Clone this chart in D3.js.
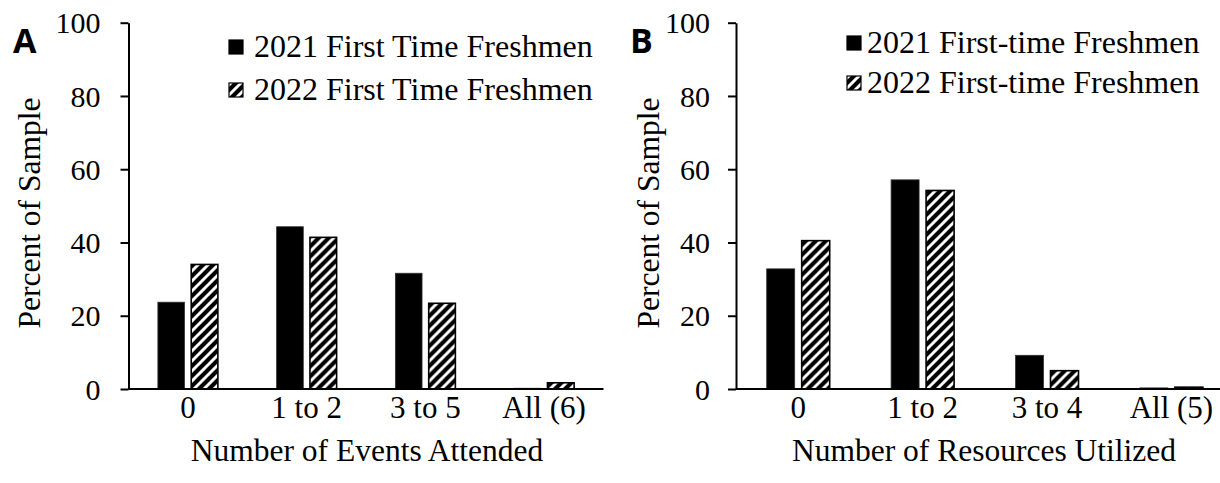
<!DOCTYPE html>
<html>
<head>
<meta charset="utf-8">
<script src="https://cdn.jsdelivr.net/npm/d3@7"></script>
<style>
    html, body { margin: 0; padding: 0; background: #fff; }
    #chart { width: 1220px; height: 483px; }
</style>
</head>
<body>
<div id="chart"></div>
<script>
// panel A data
const seriesA = ["2021 First Time Freshmen", "2022 First Time Freshmen"];
const categoriesA = ["0", "1 to 2", "3 to 5", "All (6)"];
const values2021A = [23.7, 44.3, 31.6, 0.2];
const values2022A = [34.0, 41.4, 23.4, 1.7];

// panel B data
const seriesB = ["2021 First-time Freshmen", "2022 First-time Freshmen"];
const categoriesB = ["0", "1 to 2", "3 to 4", "All (5)"];
const values2021B = [32.8, 57.1, 9.2, 0.3];
const values2022B = [40.5, 54.2, 5.0, 0.5];

const yTicks = [0, 20, 40, 60, 80, 100];

const SERIF = "'Liberation Serif', 'Times New Roman', 'DejaVu Serif', serif";

document.addEventListener("DOMContentLoaded", function () {
    const svg = d3.select("#chart").append("svg")
        .attr("width", 1220)
        .attr("height", 483);

    // hatch pattern for the 2022 series
    const pattern = svg.append("defs").append("pattern")
        .attr("id", "hatch")
        .attr("patternUnits", "userSpaceOnUse")
        .attr("width", 10)
        .attr("height", 10);
    pattern.append("rect").attr("width", 10).attr("height", 10).attr("fill", "#fff");
    pattern.append("path")
        .attr("d", "M-2,2 L2,-2 M0,10 L10,0 M8,12 L12,8")
        .attr("stroke", "#000")
        .attr("stroke-width", 4.1);

    function drawPanel(opt) {
        const g = svg.append("g").style("font-family", SERIF);

        const y = d3.scaleLinear().domain([0, 100]).range([389, 22.7]);
        const x = d3.scaleBand().domain(opt.categories).range([opt.axisX, opt.endX]);
        const x1 = d3.scaleBand().domain(opt.series).range([0, opt.pairWidth]).paddingInner(0.2);

        const data = opt.categories.map((c, i) => ({
            category: c,
            values: [
                { key: opt.series[0], value: opt.v2021[i] },
                { key: opt.series[1], value: opt.v2022[i] }
            ]
        }));

        const groups = g.selectAll(".group")
            .data(data)
            .join("g")
            .attr("transform", d => `translate(${x(d.category) + (x.bandwidth() - opt.pairWidth) / 2},0)`);

        groups.selectAll("rect")
            .data(d => d.values)
            .join("rect")
            .attr("x", d => x1(d.key))
            .attr("y", d => y(d.value))
            .attr("width", x1.bandwidth())
            .attr("height", d => y(0) - y(d.value))
            .attr("fill", d => d.key === opt.series[0] ? "#000" : "url(#hatch)")
            .attr("stroke", d => d.key === opt.series[0] ? "#333" : "#000")
            .attr("stroke-width", d => d.key === opt.series[0] ? 0.8 : 1.6);

        // y axis
        const yAxis = g.append("g")
            .attr("transform", `translate(${opt.axisX},0)`)
            .call(d3.axisLeft(y).tickValues(yTicks).tickSize(8).tickSizeOuter(0).tickPadding(opt.tickPad));
        yAxis.select(".domain").attr("stroke", "#000").attr("stroke-width", 2);
        yAxis.selectAll(".tick line").attr("stroke", "#000").attr("stroke-width", 2);
        yAxis.selectAll(".tick text")
            .style("font-family", SERIF)
            .attr("font-size", 30)
            .attr("fill", "#000")
            .attr("dy", "0.34em");

        // baseline
        g.append("line")
            .attr("x1", opt.axisX)
            .attr("x2", opt.endX)
            .attr("y1", y(0))
            .attr("y2", y(0))
            .attr("stroke", "#000")
            .attr("stroke-width", 2);

        // category labels
        g.selectAll(".cat")
            .data(opt.categories)
            .join("text")
            .attr("x", d => x(d) + x.bandwidth() / 2)
            .attr("y", 418)
            .attr("text-anchor", "middle")
            .attr("font-size", 31)
            .text(d => d);

        // axis titles
        g.append("text")
            .attr("x", opt.titleX)
            .attr("y", 461)
            .attr("text-anchor", "middle")
            .attr("font-size", 31.5)
            .text(opt.xTitle);

        g.append("text")
            .attr("transform", `translate(${opt.yTitleX},213) rotate(-90)`)
            .attr("text-anchor", "middle")
            .attr("font-size", 31.5)
            .text("Percent of Sample");

        // panel letter
        g.append("text")
            .attr("x", opt.letterX)
            .attr("y", 53)
            .style("font-family", "'Open Sans', 'Liberation Sans', sans-serif")
            .attr("font-weight", 700)
            .attr("font-size", 34)
            .text(opt.letter);

        // legend
        const legend = g.selectAll(".legend")
            .data(opt.series)
            .join("g")
            .attr("transform", (d, i) => `translate(${opt.legendX},${opt.legendY[i]})`);
        legend.append("rect")
            .attr("x", 0)
            .attr("y", -7)
            .attr("width", 14)
            .attr("height", 14)
            .attr("fill", (d, i) => i === 0 ? "#000" : "url(#hatch)")
            .attr("stroke", "#000")
            .attr("stroke-width", 1.2);
        legend.append("text")
            .attr("x", opt.legendGap)
            .attr("y", 10)
            .attr("font-size", 32)
            .text(d => d);
    }

    drawPanel({
        letter: "A", letterX: 13,
        series: seriesA, categories: categoriesA,
        v2021: values2021A, v2022: values2022A,
        axisX: 128.5, endX: 603.5, pairWidth: 60, tickPad: 20,
        xTitle: "Number of Events Attended", titleX: 367,
        yTitleX: 40,
        legendX: 229, legendGap: 25, legendY: [47, 90]
    });

    drawPanel({
        letter: "B", letterX: 630,
        series: seriesB, categories: categoriesB,
        v2021: values2021B, v2022: values2022B,
        axisX: 736, endX: 1233.6, pairWidth: 63, tickPad: 18,
        xTitle: "Number of Resources Utilized", titleX: 984,
        yTitleX: 659,
        legendX: 847, legendGap: 20, legendY: [43, 83]
    });
});
</script>
</body>
</html>
